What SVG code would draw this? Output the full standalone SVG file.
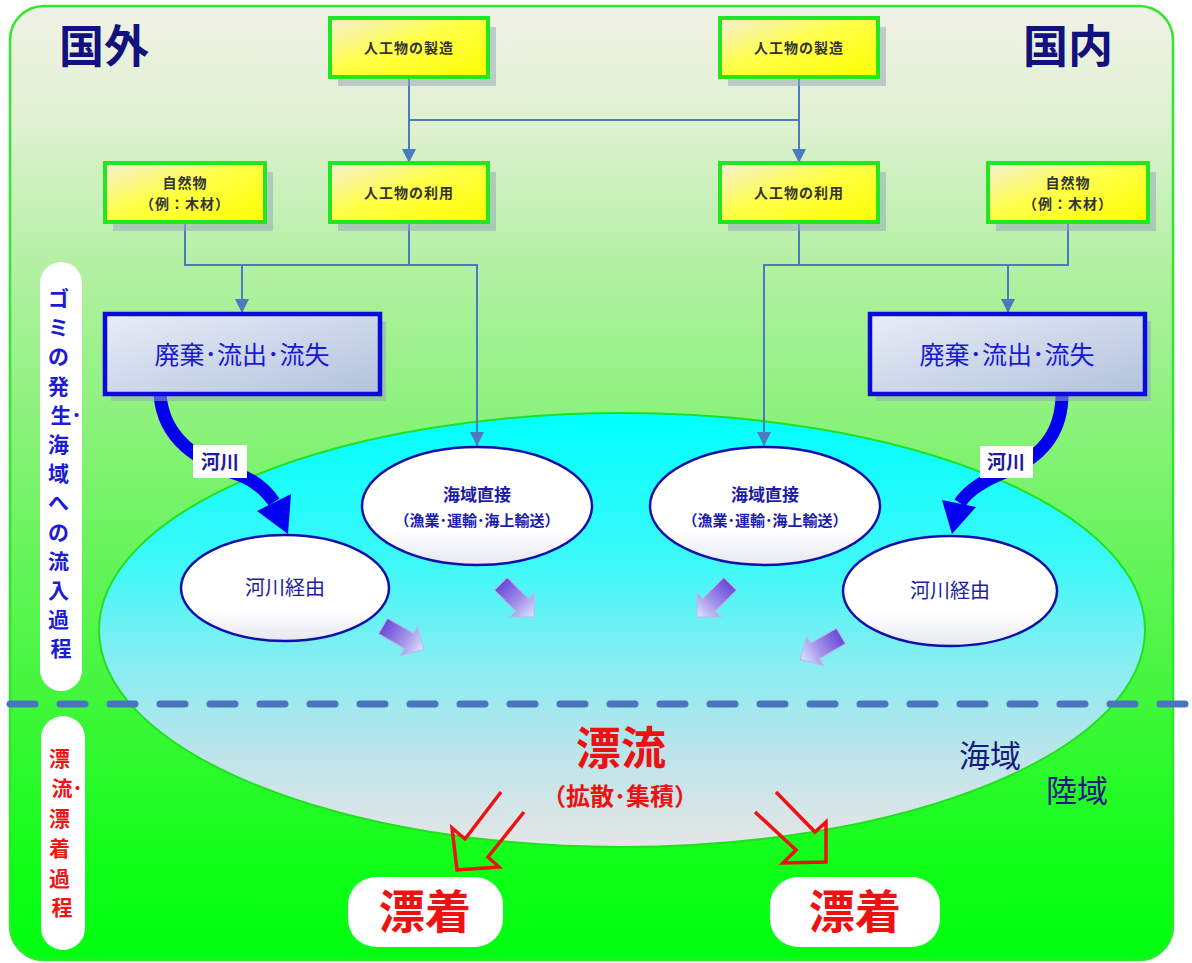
<svg xmlns="http://www.w3.org/2000/svg" width="1192" height="963" viewBox="0 0 1192 963">
<defs>
  <linearGradient id="bg" x1="0" y1="0" x2="0" y2="1">
    <stop offset="0" stop-color="#f1f1e6"/>
    <stop offset="0.12" stop-color="#e0f1d2"/>
    <stop offset="0.27" stop-color="#b4f0a4"/>
    <stop offset="0.47" stop-color="#82f272"/>
    <stop offset="0.73" stop-color="#40f63a"/>
    <stop offset="0.9" stop-color="#10ff18"/>
    <stop offset="1" stop-color="#00ff10"/>
  </linearGradient>
  <linearGradient id="sea" x1="0" y1="0" x2="0" y2="1">
    <stop offset="0" stop-color="#00ffff"/>
    <stop offset="0.35" stop-color="#3ef8f8"/>
    <stop offset="0.55" stop-color="#80eef2"/>
    <stop offset="0.8" stop-color="#bfe4ea"/>
    <stop offset="1" stop-color="#e6e6e6"/>
  </linearGradient>
  <linearGradient id="yel" x1="0" y1="0" x2="1" y2="1">
    <stop offset="0" stop-color="#f3efd6"/>
    <stop offset="0.45" stop-color="#ffff48"/>
    <stop offset="1" stop-color="#ffff00"/>
  </linearGradient>
  <linearGradient id="blu" x1="0" y1="0" x2="1" y2="1">
    <stop offset="0" stop-color="#e8edf7"/>
    <stop offset="1" stop-color="#b2c2dc"/>
  </linearGradient>
  <linearGradient id="wht" x1="0" y1="0" x2="0" y2="1">
    <stop offset="0" stop-color="#ffffff"/>
    <stop offset="0.7" stop-color="#ffffff"/>
    <stop offset="1" stop-color="#e6e8f0"/>
  </linearGradient>
  <linearGradient id="pur" x1="0" y1="0" x2="1" y2="0">
    <stop offset="0" stop-color="#6a48d8"/>
    <stop offset="0.55" stop-color="#a494ec"/>
    <stop offset="1" stop-color="#dfe6fb"/>
  </linearGradient>
  <marker id="ah" markerWidth="14" markerHeight="14" refX="14" refY="7" orient="auto" markerUnits="userSpaceOnUse">
    <path d="M0,0 L14,7 L0,14 z" fill="#4a7abf"/>
  </marker>
  <path id="blk" d="M-30,-9 L0,-9 L0,-17 L17,0 L0,17 L0,9 L-30,9 Z"/>
  <style>
    .jp{font-family:"Noto Sans CJK JP","Noto Sans CJK SC",sans-serif;}
    .ybox{fill:url(#yel);stroke:#22e622;stroke-width:4;}
    .shadow{fill:#98aabb;opacity:0.55;}
    .ytxt{font-size:14px;font-weight:bold;fill:#333333;text-anchor:middle;letter-spacing:1px;}
    .bbox{fill:url(#blu);stroke:#0a0adc;stroke-width:4.5;}
    .btxt{font-size:25px;fill:#1a1ad0;text-anchor:middle;}
    .oval{fill:url(#wht);stroke:#1010a8;stroke-width:2.5;}
    .otxt{fill:#1c1ca8;text-anchor:middle;font-weight:bold;}
    .rtxt{fill:#1c1ca8;text-anchor:middle;font-size:20px;}
    .conn{fill:none;stroke:#4a7abf;stroke-width:2;}
    .river{fill:none;stroke:#0000ee;stroke-width:13;}
    .rhead{fill:#0000ee;}
    .lbl{fill:#ffffff;}
    .ltxt{font-size:19px;font-weight:bold;fill:#1c1c9c;text-anchor:middle;}
    .blk{fill:url(#pur);stroke:#b4bcec;stroke-width:1;}
    .red{fill:none;stroke:#ee1111;stroke-width:3.5;stroke-linejoin:miter;}
    .pill{fill:#ffffff;}
    .vt{font-size:21px;font-weight:bold;text-anchor:middle;}
    .title{font-size:45px;font-weight:bold;fill:#12127c;text-anchor:middle;}
  </style>
</defs>

<!-- background -->
<rect x="10" y="6" width="1163" height="954" rx="34" fill="url(#bg)" stroke="#2ee82e" stroke-width="2.5"/>

<!-- sea ellipse -->
<ellipse id="sea-area" cx="622" cy="630" rx="523" ry="217" fill="url(#sea)" stroke="#20e020" stroke-width="2"/>

<!-- dashed boundary -->
<line x1="10" y1="704" x2="1192" y2="704" stroke="#4a74c0" stroke-width="7" stroke-dasharray="25 25" stroke-linecap="round"/>

<!-- titles -->
<text class="jp title" x="104" y="63">国外</text>
<text class="jp title" x="1068" y="63">国内</text>

<!-- left pills -->
<g id="pill-upper">
  <rect class="pill" x="40" y="262" width="42" height="429" rx="21"/>
  <text class="jp vt" fill="#1c1cd0">
    <tspan x="61" y="306">ゴ</tspan>
    <tspan x="61" y="335">ミ</tspan>
    <tspan x="61" y="364">の</tspan>
    <tspan x="61" y="394">発</tspan>
    <tspan x="61" y="423">生</tspan><tspan x="79" y="423">･</tspan>
    <tspan x="61" y="452">海</tspan>
    <tspan x="61" y="481">域</tspan>
    <tspan x="61" y="510">へ</tspan>
    <tspan x="61" y="540">の</tspan>
    <tspan x="61" y="569">流</tspan>
    <tspan x="61" y="598">入</tspan>
    <tspan x="61" y="627">過</tspan>
    <tspan x="61" y="656">程</tspan>
  </text>
</g>
<g id="pill-lower">
  <rect class="pill" x="41" y="716" width="44" height="234" rx="22"/>
  <text class="jp vt" fill="#ee1515">
    <tspan x="62" y="766">漂</tspan>
    <tspan x="62" y="796">流</tspan><tspan x="80" y="796">･</tspan>
    <tspan x="62" y="826">漂</tspan>
    <tspan x="62" y="856">着</tspan>
    <tspan x="62" y="886">過</tspan>
    <tspan x="62" y="915">程</tspan>
  </text>
</g>

<!-- connectors -->
<g id="connectors">
  <path class="conn" d="M409,77 V163" marker-end="url(#ah)"/>
  <path class="conn" d="M409,120 H799"/>
  <path class="conn" d="M799,77 V163" marker-end="url(#ah)"/>
  <path class="conn" d="M185,222 V265 H477 V446" marker-end="url(#ah)"/>
  <path class="conn" d="M409,222 V265"/>
  <path class="conn" d="M242,265 V313" marker-end="url(#ah)"/>
  <path class="conn" d="M1068,222 V265 H764 V446" marker-end="url(#ah)"/>
  <path class="conn" d="M799,222 V265"/>
  <path class="conn" d="M1008,265 V313" marker-end="url(#ah)"/>

  <!-- river arrows -->
  <path class="river" d="M160,394 C163,440 200,462 240,475 C255,481 266,490 274,502"/>
  <polygon class="rhead" points="257,511 291,494 288,534"/>
  <path class="river" d="M1062,394 C1062,435 1040,458 1005,472 C985,480 968,490 960,503"/>
  <polygon class="rhead" points="942,500 976,507 952,534"/>

  <!-- purple block arrows -->
  <use href="#blk" class="blk" transform="translate(409,641) rotate(30)"/>
  <use href="#blk" class="blk" transform="translate(522,605) rotate(45)"/>
  <use href="#blk" class="blk" transform="translate(709,605) rotate(135)"/>
  <use href="#blk" class="blk" transform="translate(815,651) rotate(150)"/>

  <!-- red hollow arrows -->
  <polyline class="red" points="501,792 465,839 452,828 457,870 499,867 488,857 524,812"/>
  <polyline class="red" points="776,792 815,832 826,822 826,862 783,863 796,850 755,812"/>
</g>

<!-- river labels -->
<g id="label-river-left">
  <rect class="lbl" x="193" y="445" width="54" height="33"/>
  <text class="jp ltxt" x="220" y="469">河川</text>
</g>
<g id="label-river-right">
  <rect class="lbl" x="980" y="446" width="53" height="32"/>
  <text class="jp ltxt" x="1006" y="469">河川</text>
</g>

<!-- yellow nodes -->
<g id="make-foreign">
  <rect class="shadow" x="338" y="27" width="158" height="59"/>
  <rect class="ybox" x="330" y="18" width="158" height="59"/>
  <text class="jp ytxt" x="409" y="53">人工物の製造</text>
</g>
<g id="use-foreign">
  <rect class="shadow" x="338" y="172" width="158" height="59"/>
  <rect class="ybox" x="330" y="163" width="158" height="59"/>
  <text class="jp ytxt" x="409" y="198">人工物の利用</text>
</g>
<g id="nature-foreign">
  <rect class="shadow" x="113" y="172" width="160" height="59"/>
  <rect class="ybox" x="105" y="163" width="160" height="59"/>
  <text class="jp ytxt" x="185" y="188">自然物</text>
  <text class="jp ytxt" x="185" y="209">（例：木材）</text>
</g>
<g id="make-domestic">
  <rect class="shadow" x="728" y="27" width="158" height="59"/>
  <rect class="ybox" x="720" y="18" width="158" height="59"/>
  <text class="jp ytxt" x="799" y="53">人工物の製造</text>
</g>
<g id="use-domestic">
  <rect class="shadow" x="728" y="172" width="158" height="59"/>
  <rect class="ybox" x="720" y="163" width="158" height="59"/>
  <text class="jp ytxt" x="799" y="198">人工物の利用</text>
</g>
<g id="nature-domestic">
  <rect class="shadow" x="996" y="172" width="160" height="59"/>
  <rect class="ybox" x="988" y="163" width="160" height="59"/>
  <text class="jp ytxt" x="1068" y="188">自然物</text>
  <text class="jp ytxt" x="1068" y="209">（例：木材）</text>
</g>

<!-- blue nodes -->
<g id="discard-foreign">
  <rect class="shadow" x="111" y="321" width="275" height="80"/>
  <rect class="bbox" x="105" y="314" width="275" height="80"/>
  <text class="jp btxt" x="242" y="364">廃棄･流出･流失</text>
</g>
<g id="discard-domestic">
  <rect class="shadow" x="876" y="321" width="275" height="80"/>
  <rect class="bbox" x="870" y="314" width="275" height="80"/>
  <text class="jp btxt" x="1007" y="364">廃棄･流出･流失</text>
</g>

<!-- ovals -->
<g id="direct-foreign">
  <ellipse class="oval" cx="477" cy="506" rx="115" ry="59"/>
  <text class="jp otxt" x="477" y="501" font-size="17">海域直接</text>
  <text class="jp otxt" x="477" y="526" font-size="15">（漁業･運輸･海上輸送）</text>
</g>
<g id="direct-domestic">
  <ellipse class="oval" cx="765" cy="506" rx="115" ry="59"/>
  <text class="jp otxt" x="765" y="501" font-size="17">海域直接</text>
  <text class="jp otxt" x="765" y="526" font-size="15">（漁業･運輸･海上輸送）</text>
</g>
<g id="river-foreign">
  <ellipse class="oval" cx="285" cy="588" rx="104" ry="53"/>
  <text class="jp rtxt" x="285" y="595">河川経由</text>
</g>
<g id="river-domestic">
  <ellipse class="oval" cx="950" cy="591" rx="107" ry="55"/>
  <text class="jp rtxt" x="950" y="598">河川経由</text>
</g>

<!-- drift -->
<g id="drift">
  <text class="jp" x="621" y="765" font-size="45" font-weight="bold" fill="#ee1111" text-anchor="middle">漂流</text>
  <text class="jp" x="620" y="805" font-size="24" font-weight="bold" fill="#ee1111" text-anchor="middle">（拡散･集積）</text>
</g>
<text class="jp" x="990" y="767" font-size="31" fill="#1a1a80" text-anchor="middle">海域</text>
<text class="jp" x="1077" y="802" font-size="31" fill="#1a1a80" text-anchor="middle">陸域</text>

<!-- stranding -->
<g id="strand-foreign">
  <rect x="348" y="877" width="155" height="70" rx="28" fill="#ffffff"/>
  <text class="jp" x="425" y="928" font-size="46" font-weight="bold" fill="#ee1111" text-anchor="middle">漂着</text>
</g>
<g id="strand-domestic">
  <rect x="770" y="877" width="170" height="70" rx="28" fill="#ffffff"/>
  <text class="jp" x="855" y="928" font-size="46" font-weight="bold" fill="#ee1111" text-anchor="middle">漂着</text>
</g>
</svg>
